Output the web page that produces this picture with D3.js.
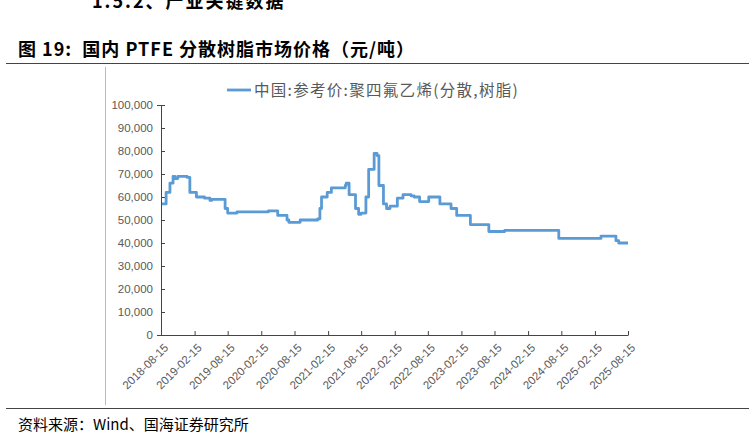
<!DOCTYPE html>
<meta charset="utf-8">
<style>body{margin:0;background:#fff;font-family:"Noto Sans CJK SC","Liberation Sans",sans-serif;}</style>
<svg width="755" height="439"></svg>
<script src="https://d3js.org/d3.v7.min.js"></script>
<script>

var dates = ["2018-08-20","2018-09-12","2018-10-03","2018-10-20","2018-10-30","2018-11-15","2019-01-05","2019-01-20","2019-02-25","2019-04-10","2019-05-10","2019-05-20","2019-07-15","2019-08-01","2019-08-15","2019-10-05","2019-12-15","2020-03-25","2020-05-15","2020-07-05","2020-07-15","2020-09-15","2020-12-20","2021-01-01","2021-01-10","2021-02-10","2021-03-05","2021-05-20","2021-05-25","2021-06-10","2021-07-15","2021-08-01","2021-08-15","2021-09-10","2021-09-25","2021-10-25","2021-11-10","2021-11-20","2021-12-15","2022-01-01","2022-01-20","2022-03-01","2022-04-01","2022-05-15","2022-06-01","2022-07-01","2022-08-20","2022-10-10","2022-10-20","2022-12-10","2022-12-20","2023-01-20","2023-04-01","2023-04-05","2023-07-10","2023-07-15","2023-10-10","2024-07-25","2024-08-01","2025-03-15","2025-03-20","2025-05-25","2025-06-10","2025-06-25","2025-08-15"];
var prices = [57000,62000,66000,69000,68000,69000,68500,62000,60000,59500,58500,59000,59000,55000,53000,53500,53500,54000,52000,50000,49000,50000,50500,55000,60000,62000,64000,65000,66000,61000,55000,52500,53000,60000,72000,79000,78000,65000,57000,55000,56000,59500,61000,60500,60000,58000,60000,60000,57000,57000,55000,52000,52000,48000,48000,45000,45500,45500,42000,42000,43000,43000,41000,40000,40000];
var tickDates = ["2018-08-15","2019-02-15","2019-08-15","2020-02-15","2020-08-15","2021-02-15","2021-08-15","2022-02-15","2022-08-15","2023-02-15","2023-08-15","2024-02-15","2024-08-15","2025-02-15","2025-08-15"];
var yTicks = d3.range(0, 100001, 10000);
var seriesName = "中国:参考价:聚四氟乙烯(分散,树脂)";

var svg = d3.select("svg"),
    parse = d3.timeParse("%Y-%m-%d"),
    grey = "#595959";

var x = d3.scaleTime().domain([parse(tickDates[0]), parse(tickDates[tickDates.length - 1])]).range([161, 628]);
var y = d3.scaleLinear().domain([0, 100000]).range([335, 105]);

// header texts and frame
svg.append("text").attr("x", 92).attr("y", 8).attr("font-size", 18).attr("font-weight", "bold").attr("letter-spacing", 2).text("1.5.2、产业关键数据");
svg.append("text").attr("x", 18).attr("y", 56).attr("font-size", 18).attr("font-weight", "bold").attr("letter-spacing", 1).attr("xml:space", "preserve").text("图 19:  国内 PTFE 分散树脂市场价格（元/吨）");
svg.append("line").attr("x1", 6).attr("x2", 749).attr("y1", 63.5).attr("y2", 63.5).attr("stroke", "#444").attr("stroke-width", 1.2);
svg.append("line").attr("x1", 6).attr("x2", 749).attr("y1", 408.5).attr("y2", 408.5).attr("stroke", "#444").attr("stroke-width", 1.2);
svg.append("line").attr("x1", 105.5).attr("x2", 105.5).attr("y1", 67).attr("y2", 405).attr("stroke", "#bbb");
svg.append("text").attr("x", 18).attr("y", 430).attr("font-size", 15).text("资料来源：Wind、国海证券研究所");

// axes
var yAxis = svg.append("g").attr("transform", "translate(161,0)")
  .call(d3.axisLeft(y).tickValues(yTicks).tickSize(4).tickFormat(d3.format(",")));
yAxis.select(".domain").attr("stroke", "#444");
yAxis.selectAll(".tick line").attr("stroke", "#444").attr("x1", 0).attr("x2", 4);
yAxis.selectAll("text").attr("fill", grey).attr("font-size", 11.5).attr("x", -8).attr("font-family", "Liberation Sans");

var xAxis = svg.append("g").attr("transform", "translate(0,335)")
  .call(d3.axisBottom(x).tickValues(tickDates.map(parse)).tickSize(-4).tickSizeOuter(0).tickFormat(d3.timeFormat("%Y-%m-%d")));
xAxis.select(".domain").attr("stroke", "#444");
xAxis.selectAll(".tick line").attr("stroke", "#444");
xAxis.selectAll("text").attr("fill", grey).attr("font-size", 11.5).attr("font-family", "Liberation Sans")
  .attr("text-anchor", "end").attr("transform", "translate(5,11) rotate(-45)").attr("dy", "0.3em").attr("y", 0).attr("x", 0);

// line
var data = dates.map(function(d, i) { return {date: parse(d), value: prices[i]}; });
svg.append("path").datum(data)
  .attr("fill", "none").attr("stroke", "#5b9bd5").attr("stroke-width", 2.8).attr("stroke-linejoin", "round")
  .attr("d", d3.line().curve(d3.curveStepAfter).x(function(d) { return x(d.date); }).y(function(d) { return y(d.value); }));

// legend
svg.append("line").attr("x1", 227).attr("x2", 251).attr("y1", 90).attr("y2", 90).attr("stroke", "#5b9bd5").attr("stroke-width", 2.8);
svg.append("text").attr("x", 254).attr("y", 96).attr("font-size", 15.5).attr("fill", grey).attr("letter-spacing", 1.3).text(seriesName);

</script>
